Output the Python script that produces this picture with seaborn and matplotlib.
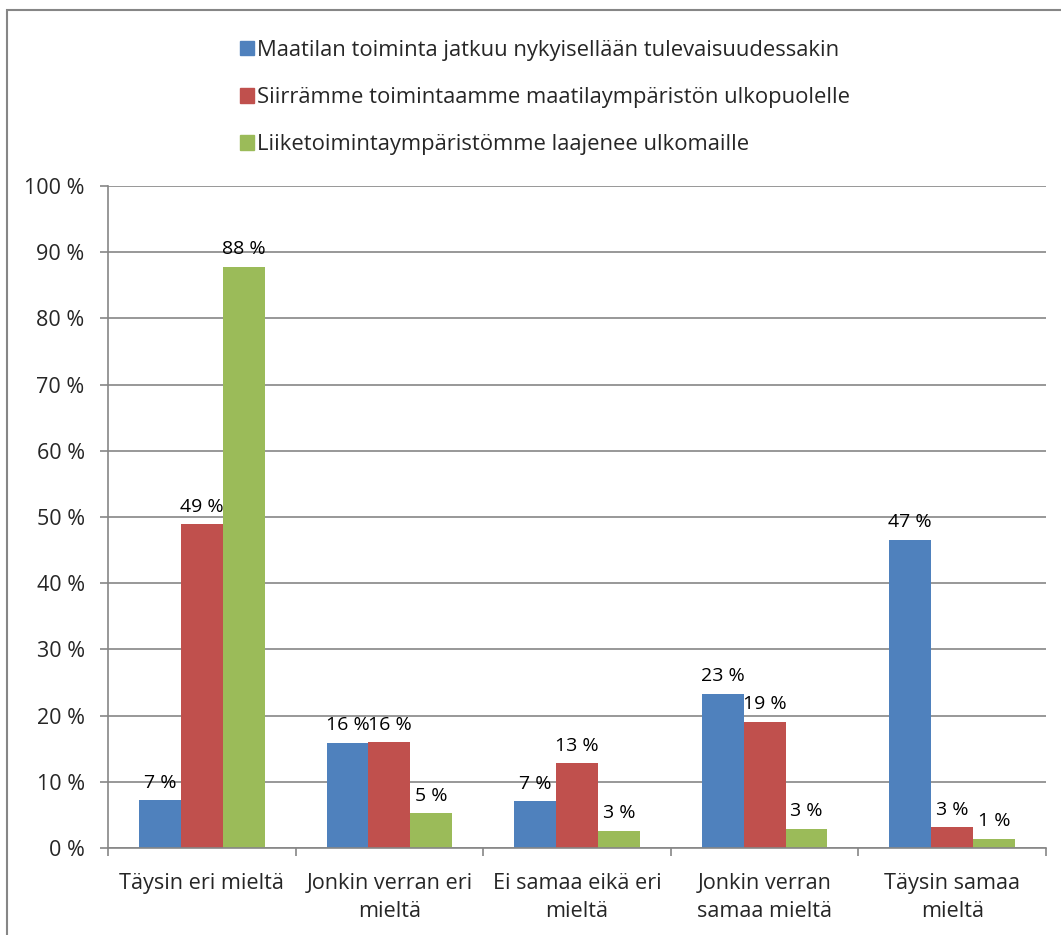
import matplotlib
matplotlib.use("Agg")
import matplotlib.pyplot as plt
import matplotlib.patches as mpatches
import seaborn as sns
import pandas as pd

# Data
categories = ["Täysin eri mieltä", "Jonkin verran eri\nmieltä", "Ei samaa eikä eri\nmieltä",
              "Jonkin verran\nsamaa mieltä", "Täysin samaa\nmieltä"]
series = ["Maatilan toiminta jatkuu nykyisellään tulevaisuudessakin",
          "Siirrämme toimintaamme maatilaympäristön ulkopuolelle",
          "Liiketoimintaympäristömme laajenee ulkomaille"]
jatkuu = [7.2, 15.9, 7.1, 23.3, 46.6]
siirramme = [48.9, 16.0, 12.8, 19.1, 3.1]
ulkomaille = [87.8, 5.3, 2.6, 2.9, 1.4]
colors = ["#4F81BD", "#C0504D", "#9BBB59"]
yticks = [0, 10, 20, 30, 40, 50, 60, 70, 80, 90, 100]

rows = []
for s, vals in zip(series, [jatkuu, siirramme, ulkomaille]):
    for c, v in zip(categories, vals):
        rows.append({"Kategoria": c, "Sarja": s, "Osuus": v})
df = pd.DataFrame(rows)

sns.set_style("white")
plt.rcParams['font.family'] = ['Open Sans', 'DejaVu Sans']
gray = "#868686"

fig = plt.figure(figsize=(10.61, 9.35), dpi=100)
ax = fig.add_axes([108 / 1061, 1 - 848 / 935, (1046 - 108) / 1061, (848 - 186) / 935])

sns.barplot(data=df, x="Kategoria", y="Osuus", hue="Sarja", palette=colors,
            order=categories, hue_order=series, width=0.67, gap=0,
            saturation=1, edgecolor="none", linewidth=0, ax=ax, legend=False)

for cont in ax.containers:
    labels = [f"{int(b.get_height() + 0.5)} %" for b in cont]
    ax.bar_label(cont, labels=labels, padding=6, fontsize=14, color="black")

ax.set_ylim(0, 100)
ax.set_xlim(-0.5, len(categories) - 0.5)
ax.set_yticks(yticks)
ax.set_yticklabels([f"{t} %" for t in yticks], fontsize=15.5)
ax.yaxis.grid(True, color=gray, linewidth=1.2)
ax.set_axisbelow(True)
ax.tick_params(axis="y", length=5.8, color=gray, width=1.2, pad=11, left=True)
ax.tick_params(axis="x", length=0, labelsize=15.6, pad=18)
for lab in ax.get_xticklabels():
    lab.set_linespacing(1.45)
ax.set_xticks([i - 0.5 for i in range(len(categories) + 1)], minor=True)
ax.tick_params(axis="x", which="minor", length=5.8, color=gray, width=1.2, bottom=True)
ax.set_xlabel("")
ax.set_ylabel("")
for side in ["top", "right"]:
    ax.spines[side].set_visible(False)
for side in ["left", "bottom"]:
    ax.spines[side].set_color(gray)
    ax.spines[side].set_linewidth(1.2)

handles = [mpatches.Patch(color=c, label=s) for c, s in zip(colors, series)]
fig.legend(handles=handles, loc="upper left", bbox_to_anchor=(220 / 1061, 1 - 20 / 935),
           frameon=False, fontsize=15.8, handlelength=0.65, handleheight=0.65,
           handletextpad=0.15, labelspacing=1.2)

fig.patches.append(mpatches.Rectangle((7 / 1061, -0.05), 1.1, 1.05 - 10 / 935,
                                      transform=fig.transFigure, fill=False,
                                      edgecolor=gray, linewidth=1.5))

fig.savefig("out.png", dpi=100, facecolor="white")
